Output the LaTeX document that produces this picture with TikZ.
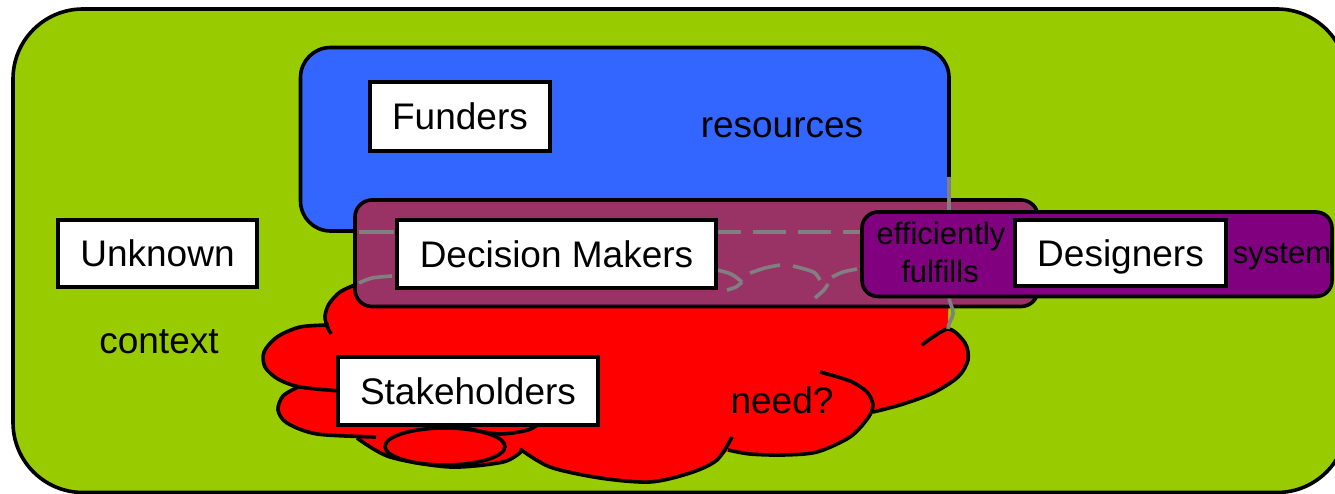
\documentclass[tikz,border=0pt]{standalone}
\usepackage{fontspec}
\setmainfont{Liberation Sans}
\definecolor{ctxgreen}{HTML}{99CC00}
\definecolor{fundblue}{HTML}{3366FF}
\definecolor{cloudred}{HTML}{FF0000}
\definecolor{dmmaroon}{HTML}{993366}
\definecolor{despurple}{HTML}{800080}
\definecolor{hiddengray}{HTML}{808080}
\begin{document}
\begin{tikzpicture}[x=1pt,y=-1pt,
  outline/.style={draw=black,line width=3.6pt},
  labelbox/.style={draw=black,line width=3.6pt,fill=white,inner sep=0pt,
    font=\fontsize{37}{44}\selectfont,text height=26.5pt,text depth=0pt},
  bigtext/.style={font=\fontsize{37}{44}\selectfont,inner sep=0pt,anchor=base},
  smalltext/.style={font=\fontsize{31}{36}\selectfont,inner sep=0pt,anchor=base},
  hidden/.style={draw=hiddengray,line width=3.6pt}]
\useasboundingbox (0,0) rectangle (1335,494);
\clip (0,0) rectangle (1335,494);
\fill[white] (0,0) rectangle (1335,494);

% context area
\draw[outline,fill=ctxgreen,rounded corners=70pt] (13,9) rectangle (1347,492.5);

% funders area
\draw[outline,fill=fundblue,rounded corners=30pt] (300.5,47.5) rectangle (949,231);

% stakeholder cloud: fill
\fill[cloudred] (357,250) -- (357,284)
  -- plot[smooth] coordinates {(357,284) (340,292) (329,304) (325,316) (327,326)}
  -- plot[smooth] coordinates {(327,326) (300,327) (277,337) (264,352) (265,367) (278,379) (298,387)}
  -- plot[smooth] coordinates {(298,387) (283,396) (278,410) (287,423) (317,434) (357,438)}
  -- plot[smooth] coordinates {(357,438) (390,457) (450,467) (503,462) (520,450)}
  -- plot[smooth] coordinates {(520,450) (550,467) (600,478) (650,482) (690,473) (717,460) (729,449)}
  -- plot[smooth] coordinates {(729,449) (750,454) (783,455) (817,452) (850,437) (868,418) (873,410)}
  -- plot[smooth] coordinates {(873,410) (900,405) (933,393) (958,377) (968,360) (965,343) (948,329)}
  -- (949,250) -- cycle;

% stakeholder cloud: bump outlines
\draw[outline] plot[smooth] coordinates {(357,284) (340,292) (329,304) (325,316) (327,326) (331,334)};
\draw[outline] plot[smooth] coordinates {(329,325) (300,327) (277,337) (264,352) (265,367) (278,379) (300,387) (340,391)};
\draw[outline] plot[smooth] coordinates {(298,387) (283,396) (278,410) (287,423) (317,434) (376,437)};
\draw[outline] plot[smooth] coordinates {(357,438) (390,457) (450,467) (503,462) (522,451)};
\draw[outline] plot[smooth] coordinates {(520,449) (550,467) (600,478) (650,482) (690,473) (717,460) (732,437)};
\draw[outline] plot[smooth] coordinates {(728,450) (750,454) (783,455) (817,452) (850,437) (868,418) (873,405) (867,392) (850,381) (820,372)};
\draw[outline] plot[smooth] coordinates {(873,412) (900,405) (933,393) (958,377) (968,360) (965,343) (948,329) (922,345)};
\draw[outline] plot[smooth] coordinates {(456,422) (470,429) (500,434) (528,430) (540,423)};
\draw[outline,fill=cloudred] (445,446.5) ellipse [x radius=60, y radius=18.5];

% decision makers area
\draw[outline,fill=dmmaroon,rounded corners=17pt] (355,200) rectangle (1038,306.5);

% hidden edges seen through the decision makers area
\draw[hidden] (949,177) -- (949,295) .. controls (949,305) and (954,308) .. (953,314)
  .. controls (952,320) and (948,323) .. (948,329);
\draw[hidden] (359,232) -- (394,232);
\draw[hidden,dash pattern=on 33pt off 12pt] (708,232) -- (862,232);
\draw[hidden] plot[smooth] coordinates {(359,283) (372,278) (392,276)};
\draw[hidden] plot[smooth] coordinates {(717,270) (731,274) (742,282)};
\draw[hidden] plot[smooth] coordinates {(727,290) (736,287) (742,282)};
\draw[hidden] plot[smooth] coordinates {(750,273) (765,268) (780,265)};
\draw[hidden] plot[smooth] coordinates {(793,266) (808,270) (815,273) (820,280)};
\draw[hidden] plot[smooth] coordinates {(815,298) (824,290) (828,284)};
\draw[hidden] plot[smooth] coordinates {(832,277) (843,272) (857,269)};

% designers area
\draw[outline,fill=despurple,rounded corners=16pt] (862,212) rectangle (1332,296.5);

% actors
\node[labelbox,minimum width=180pt,minimum height=69pt] (funders) at (460,116.5) {Funders};
\node[labelbox,minimum width=199pt,minimum height=67pt] (unknown) at (157.5,253.5) {Unknown};
\node[labelbox,minimum width=319pt,minimum height=68pt] (decision) at (556.5,254) {Decision Makers};
\node[labelbox,minimum width=211pt,minimum height=66pt] (designers) at (1120.5,253) {Designers};
\node[labelbox,minimum width=260pt,minimum height=68pt] (stakeholders) at (468,391) {Stakeholders};

% free labels
\node[bigtext] (resources) at (782,138) {resources};
\node[bigtext] (context) at (159,353) {context};
\node[bigtext] (need) at (782,413) {need?};
\node[smalltext] (efficiently) at (941,245) {efficiently};
\node[smalltext] (fulfills) at (940,283) {fulfills};
\node[smalltext] (system) at (1282,263) {system};
\end{tikzpicture}
\end{document}
